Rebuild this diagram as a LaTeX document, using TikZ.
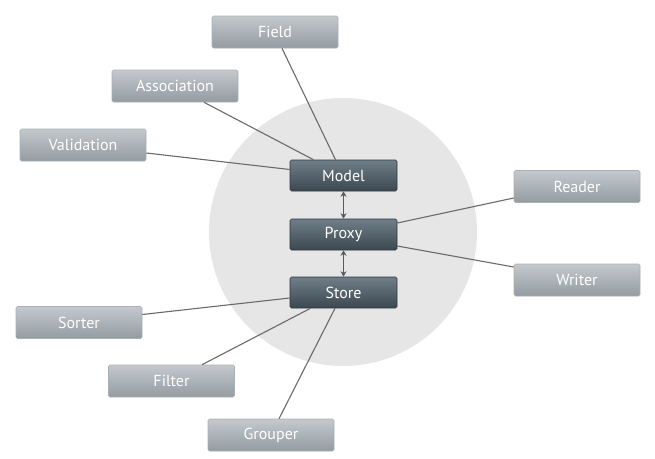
\documentclass[tikz,border=0pt]{standalone}
\usepackage{fontspec}
\setmainfont{PT Sans}
\usetikzlibrary{arrows.meta,calc}
\definecolor{circ}{HTML}{E6E6E6}
\definecolor{ltop}{HTML}{C3C9CD}
\definecolor{lbot}{HTML}{949CA1}
\definecolor{lbord}{HTML}{A9B0B4}
\definecolor{dtop}{HTML}{6F7E88}
\definecolor{dbot}{HTML}{3C4850}
\definecolor{dbord}{HTML}{2E383E}
\definecolor{conn}{HTML}{6A6A6A}
\definecolor{arr}{HTML}{555B5F}
\tikzset{
  lightbox/.style={rectangle, rounded corners=1.5pt, minimum width=126pt, minimum height=32pt,
    top color=ltop, bottom color=lbot, draw=lbord, line width=0.6pt,
    text=white, font=\fontsize{16}{17}\selectfont},
  darkbox/.style={rectangle, rounded corners=1.5pt, minimum width=107pt, minimum height=31pt,
    top color=dtop, bottom color=dbot, draw=dbord, line width=0.6pt,
    text=white, font=\fontsize{16}{17}\selectfont},
  conline/.style={draw=conn, line width=1.1pt},
  dblarrow/.style={draw=arr, line width=1.1pt, {Stealth[length=5.5pt,width=6pt]}-{Stealth[length=5.5pt,width=6pt]}}
}
\begin{document}
\begin{tikzpicture}[x=1pt,y=-1pt]
\useasboundingbox (0,0) rectangle (655,458);
\fill[circ] (343,232) circle (134);
% outer nodes
\node[lightbox] (field) at (275,32) {Field};
\node[lightbox] (assoc) at (175,86) {Association};
\node[lightbox] (valid) at (83,145) {Validation};
\node[lightbox] (reader) at (577,186.5) {Reader};
\node[lightbox] (writer) at (577,280) {Writer};
\node[lightbox] (sorter) at (79,322.5) {Sorter};
\node[lightbox] (filter) at (171.5,381) {Filter};
\node[lightbox] (grouper) at (271,435) {Grouper};
% core nodes
\node[darkbox] (model) at (343.5,175.5) {Model};
\node[darkbox] (proxy) at (343.5,234.5) {Proxy};
\node[darkbox] (store) at (343.5,292.5) {Store};
% connectors
\draw[conline] ($(field.south)+(7,0)$) -- ($(model.north)+(-8,0)$);
\draw[conline] ($(assoc.south)+(29,0)$) -- ($(model.north)+(-30,0)$);
\draw[conline] ($(valid.east)+(0,8)$) -- ($(model.west)+(0,-6)$);
\draw[conline] ($(proxy.east)+(0,-11.5)$) -- ($(reader.west)+(0,11.5)$);
\draw[conline] ($(proxy.east)+(0,11.5)$) -- ($(writer.west)+(0,-13)$);
\draw[conline] ($(sorter.east)+(0,-8)$) -- ($(store.west)+(0,5.5)$);
\draw[conline] ($(filter.north)+(30.5,0)$) -- ($(store.south)+(-33,0)$);
\draw[conline] ($(grouper.north)+(8,0)$) -- ($(store.south)+(-8.5,0)$);
\draw[dblarrow] (model.south) -- (proxy.north);
\draw[dblarrow] (proxy.south) -- (store.north);
\end{tikzpicture}
\end{document}
